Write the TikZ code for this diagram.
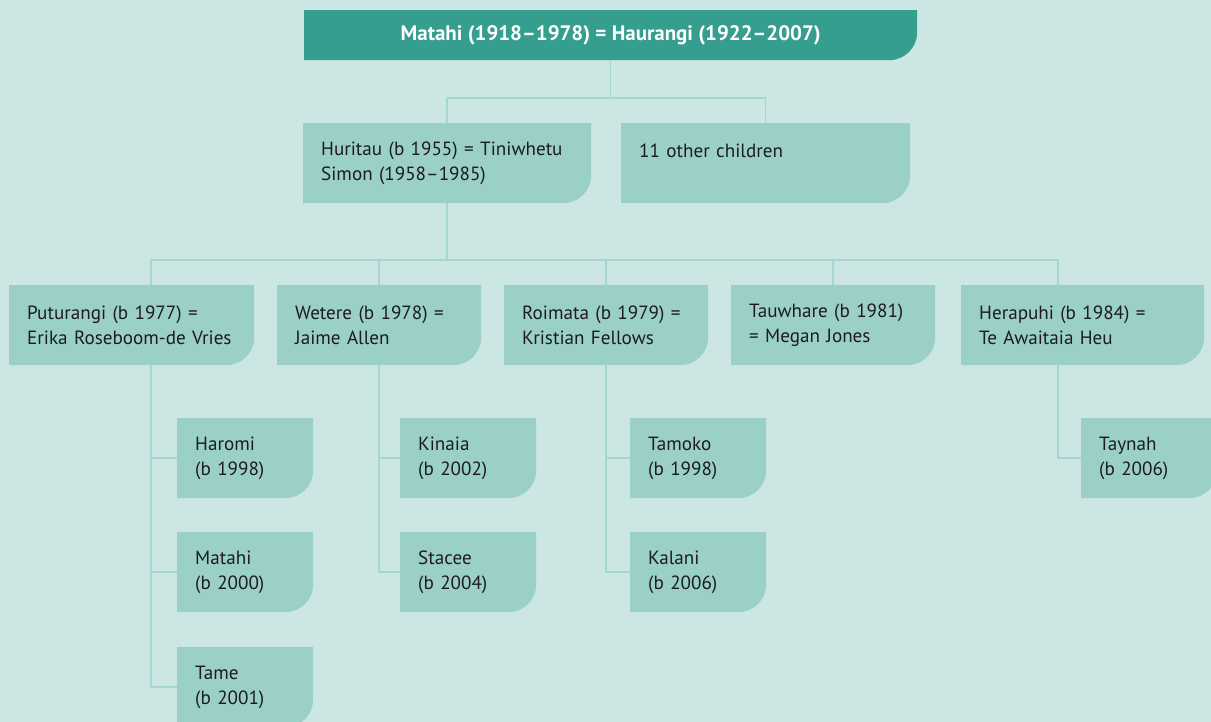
\documentclass[tikz,border=0pt]{standalone}
\usepackage{fontspec}
\setmainfont{PT Sans}

\definecolor{paper}{HTML}{CCE6E3}
\definecolor{boxfill}{HTML}{9BD0C8}
\definecolor{topfill}{HTML}{369E8F}
\definecolor{linkcol}{HTML}{A6D7CF}
\definecolor{ink}{HTML}{1C1C1C}

\tikzset{
  cutcorner/.style={path picture={
      \fill[#1] (path picture bounding box.north west)
        -- (path picture bounding box.north east)
        -- ([yshift=28bp]path picture bounding box.south east)
        arc[start angle=0, end angle=-90, radius=28bp]
        -- (path picture bounding box.south west) -- cycle;}},
  person/.style={anchor=north west, inner xsep=18bp, inner ysep=0pt,
    minimum height=80bp, text width=#1, align=left, text=ink,
    font=\fontsize{19.2}{25}\selectfont, fill=paper, cutcorner=boxfill},
  couple/.style={anchor=north west, inner sep=0pt, minimum width=613bp,
    minimum height=50bp, text=white, font=\fontsize{21}{25}\selectfont\bfseries,
    fill=paper, cutcorner=topfill},
  link/.style={draw=linkcol, line width=1.5bp}
}

\begin{document}
\begin{tikzpicture}[x=1bp, y=-1bp, line cap=round, line join=round]

  % page (pixel units, y down)
  \useasboundingbox (0,0) rectangle (1211,722);
  \fill[paper] (0,0) rectangle (1211,722);

  % generation 1
  \node[couple] (top) at (304,10) {Matahi (1918–1978) = Haurangi (1922–2007)};

  % generation 2
  \node[person=252bp] (hur) at (303,123) {Huritau (b 1955) = Tiniwhetu\\Simon (1958–1985)};
  \node[person=253bp] (oth) at (621,123) {11 other children\\ \mbox{}};

  % generation 3
  \node[person=209bp] (put) at (9,285)   {Puturangi (b 1977) =\\Erika Roseboom-de Vries};
  \node[person=168bp] (wet) at (277,285) {Wetere (b 1978) =\\Jaime Allen};
  \node[person=168bp] (roi) at (504,285) {Roimata (b 1979) =\\Kristian Fellows};
  \node[person=168bp] (tau) at (731,285) {Tauwhare (b 1981)\\= Megan Jones};
  \node[person=207bp] (her) at (961,285) {Herapuhi (b 1984) =\\Te Awaitaia Heu};

  % generation 4
  \node[person=100bp] (har) at (177,418)  {Haromi\\(b 1998)};
  \node[person=100bp] (mat) at (177,532)  {Matahi\\(b 2000)};
  \node[person=100bp] (tam) at (177,647)  {Tame\\(b 2001)};
  \node[person=100bp] (kin) at (400,418)  {Kinaia\\(b 2002)};
  \node[person=100bp] (sta) at (400,532)  {Stacee\\(b 2004)};
  \node[person=100bp] (tmk) at (630,418)  {Tamoko\\(b 1998)};
  \node[person=100bp] (kal) at (630,532)  {Kalani\\(b 2006)};
  \node[person=100bp] (tay) at (1081,418) {Taynah\\(b 2006)};

  % sibling bars
  \coordinate (barA) at (0,98);
  \coordinate (barB) at (0,260);

  % top couple -> generation 2
  \draw[link] (top.south) -- (top.south |- barA);
  \draw[link] (hur.north) -- (hur.north |- barA) -- (oth.north |- barA) -- (oth.north);

  % Huritau -> generation 3
  \draw[link] (hur.south) -- (hur.south |- barB);
  \draw[link] ([xshift=142bp]put.north west |- barB) -- ([xshift=97bp]her.north west |- barB);
  \foreach \n/\dx in {put/142, wet/102, roi/102, tau/102, her/97}
    \draw[link] ([xshift=\dx bp]\n.north west) -- ([xshift=\dx bp]\n.north west |- barB);

  % generation 3 -> generation 4
  \foreach \c in {har, mat, tam}
    \draw[link] ([xshift=142bp]put.south west) |- (\c.west);
  \foreach \c in {kin, sta}
    \draw[link] (wet.south) |- (\c.west);
  \foreach \c in {tmk, kal}
    \draw[link] (roi.south) |- (\c.west);
  \draw[link] ([xshift=97bp]her.south west) |- (tay.west);

\end{tikzpicture}
\end{document}
